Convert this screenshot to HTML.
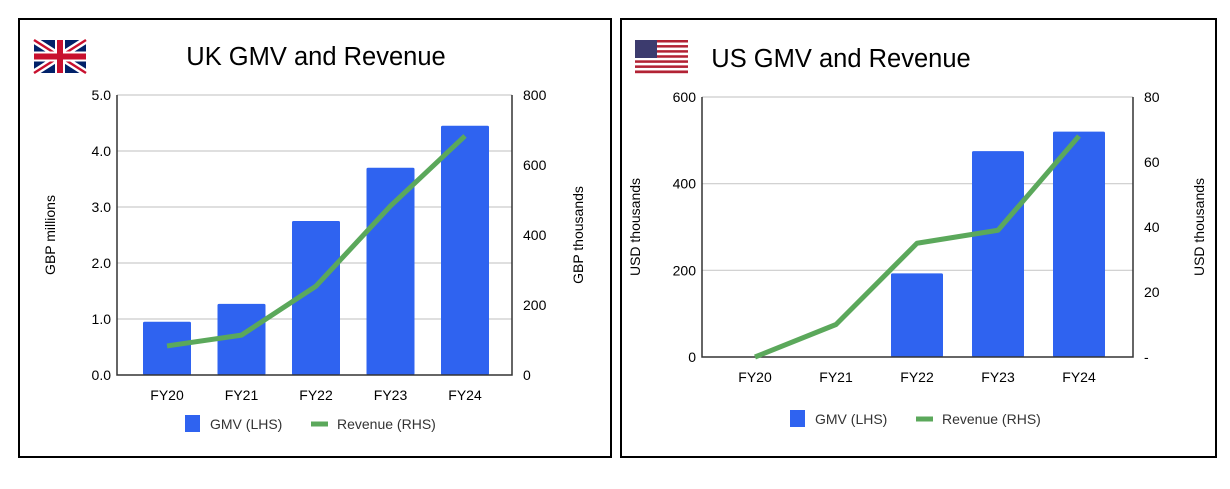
<!DOCTYPE html>
<html><head><meta charset="utf-8"><style>
body{margin:0;background:#fff;width:1230px;height:484px;overflow:hidden;font-family:"Liberation Sans",sans-serif}
svg text{font-family:"Liberation Sans",sans-serif}
</style></head><body>
<svg id="s" width="1230" height="484" xmlns="http://www.w3.org/2000/svg">
<rect x="19" y="19" width="592" height="438" fill="#fff" stroke="#000" stroke-width="2"/>
<rect x="621" y="19" width="595" height="438" fill="#fff" stroke="#000" stroke-width="2"/>
<g>
<rect x="34" y="40" width="52" height="33" fill="#012169"/>
<path d="M34 40L86 73M86 40L34 73" stroke="#fff" stroke-width="7"/>
<path d="M34 40L86 73M86 40L34 73" stroke="#C8102E" stroke-width="2.5"/>
<path d="M60 40V73M34 56.5H86" stroke="#fff" stroke-width="10"/>
<path d="M60 40V73M34 56.5H86" stroke="#C8102E" stroke-width="6"/>
</g>
<g id="usflag"></g>
<text x="316" y="65" font-size="25.5" text-anchor="middle">UK GMV and Revenue</text>
<text x="841" y="67" font-size="25.5" text-anchor="middle">US GMV and Revenue</text>
<g id="uk"></g><g id="us"></g>
</svg>
<script>
const cats=["FY20","FY21","FY22","FY23","FY24"];
const ukGmv=[0.95,1.27,2.75,3.7,4.45];
const ukRev=[83,114,254,483,683];
const ukLeftTicks=["0.0","1.0","2.0","3.0","4.0","5.0"];
const ukRightTicks=["0","200","400","600","800"];
const usGmv=[0,1,193,475,520];
const usRev=[0,10,35,39,68];
const usLeftTicks=["0","200","400","600"];
const usRightTicks=["-","20","40","60","80"];
const NS="http://www.w3.org/2000/svg";
function mk(p,t,a,txt){const e=document.createElementNS(NS,t);for(const k in a)e.setAttribute(k,a[k]);if(txt!=null)e.textContent=txt;p.appendChild(e);return e;}
(function(){const g=document.getElementById('usflag');
for(let i=0;i<13;i++){const r=mk(g,'rect',{x:635,y:40+i*33/13,width:53,height:33/13+0.2,fill:i%2?'#fff':'#B22234'});

}
const c=mk(g,'rect',{x:635,y:40,width:22,height:18,fill:'#3C3B6E'});

})();
function chart(id,cfg){
const g=document.getElementById(id);
const {L,R,T,B,lmax,rmax,gmv,rev,lt,rt,cx0,step,bw,ltitle,rtitle,legY,legX}=cfg;
const yl=v=>B-(v/lmax)*(B-T), yr=v=>B-(v/rmax)*(B-T), xc=i=>cx0+i*step;
lt.forEach((t,i)=>{const v=i*lmax/(lt.length-1);const y=yl(v);
if(i>0){const l=mk(g,'line',{x1:L,x2:R,y1:y,y2:y,stroke:'#ccc','stroke-width':1.2});

}
const tx=mk(g,'text',{x:L-6,y:y+5,'font-size':14,'text-anchor':'end'},t);

});
rt.forEach((t,i)=>{const y=B-i*(B-T)/(rt.length-1);
const tx=mk(g,'text',{x:R+11,y:y+5,'font-size':14,'text-anchor':'start'},t);

});
gmv.forEach((v,i)=>{const y=yl(v);const r=mk(g,'rect',{x:xc(i)-bw/2,y:y,width:bw,height:Math.max(B-y,0.5),fill:'#2F63F0',rx:1.5});

});
const ax=mk(g,'path',{d:`M${L} ${T}V${B}H${R}V${T}`,fill:'none',stroke:'#333','stroke-width':1.5});


const pl=mk(g,'polyline',{points:rev.map((v,i)=>xc(i)+','+yr(v)).join(' '),fill:'none',stroke:'#5BA85B','stroke-width':5,'stroke-linejoin':'round'});


cats.forEach((c,i)=>{const t=mk(g,'text',{x:xc(i),y:B+25,'font-size':14,'text-anchor':'middle'},c);

});
const my=(T+B)/2;
const a=mk(g,'text',{x:0,y:0,'font-size':14,'text-anchor':'middle',transform:`translate(${L-62},${my}) rotate(-90)`},ltitle);


const b=mk(g,'text',{x:0,y:0,'font-size':14,'text-anchor':'middle',transform:`translate(${R+71},${my}) rotate(-90)`},rtitle);


const ls=mk(g,'rect',{x:legX,y:legY-9,width:15,height:17,fill:'#2F63F0'});


const lt1=mk(g,'text',{x:legX+25,y:legY+5,'font-size':14,fill:'#333'},'GMV (LHS)');


const ll=mk(g,'line',{x1:legX+126,x2:legX+143,y1:legY,y2:legY,stroke:'#5BA85B','stroke-width':5});


const lt2=mk(g,'text',{x:legX+152,y:legY+5,'font-size':14,fill:'#333'},'Revenue (RHS)');


}
chart('uk',{L:117,R:512,T:95,B:375,lmax:5,rmax:800,gmv:ukGmv,rev:ukRev,lt:ukLeftTicks,rt:ukRightTicks,cx0:167,step:74.5,bw:48,ltitle:'GBP millions',rtitle:'GBP thousands',legY:424,legX:185});
chart('us',{L:702,R:1133,T:97,B:357,lmax:600,rmax:80,gmv:usGmv,rev:usRev,lt:usLeftTicks,rt:usRightTicks,cx0:755,step:81,bw:52,ltitle:'USD thousands',rtitle:'USD thousands',legY:419,legX:790});
</script>
</body></html>
